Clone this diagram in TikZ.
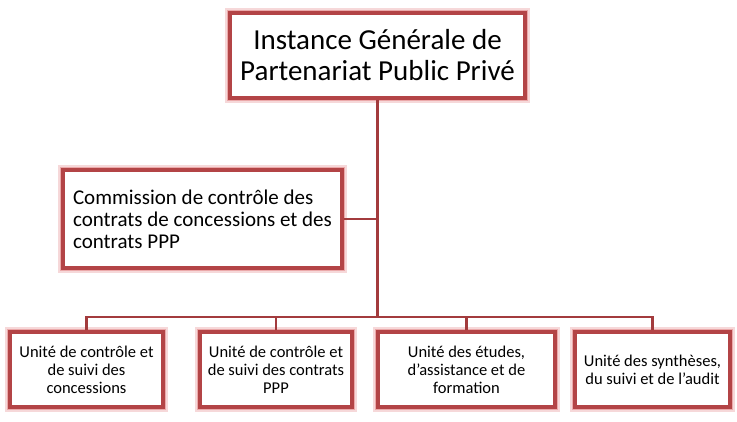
\documentclass[tikz,border=0pt]{standalone}
\usepackage{fontspec}
\setmainfont{Carlito}
\usetikzlibrary{positioning}
\definecolor{boxred}{HTML}{B34446}
\definecolor{glowred}{HTML}{EBA9AA}
\definecolor{linered}{HTML}{A33B3D}

\begin{document}
\begin{tikzpicture}
        [x=1pt, y=1pt,
            unit/.style={rectangle, align=center, fill=white, inner sep=2pt,
                preaction={draw=glowred!45, line width=10pt},
                preaction={draw=glowred, line width=6.5pt},
                draw=boxred, line width=3.2pt},
            link/.style={draw=linered, line width=2.2pt}
        ]
        \useasboundingbox (0,0) rectangle (737,422);
        \node (instance) [unit, minimum width=295pt, minimum height=85pt, font=\fontsize{29}{31}\selectfont] at (377.5,366.5) {Instance Générale de\\Partenariat Public Privé};
        \node (commission) [unit, align=left, minimum width=279pt, minimum height=98pt, font=\fontsize{21}{22}\selectfont] at (202.5,203) {Commission de contrôle des\\contrats de concessions et des\\contrats PPP};
        \node (concessions) [unit, minimum width=153pt, minimum height=75pt, font=\fontsize{16.5}{18}\selectfont] at (86.5,52.5) {Unité de contrôle et\\de suivi des\\concessions};
        \node (contrats) [unit, minimum width=152pt, minimum height=75pt, font=\fontsize{16.5}{18}\selectfont] at (276,52.5) {Unité de contrôle et\\de suivi des contrats\\PPP};
        \node (etudes) [unit, minimum width=177pt, minimum height=75pt, font=\fontsize{16.5}{18}\selectfont] at (466.5,52.5) {Unité des études,\\d’assistance et de\\formation};
        \node (audit) [unit, minimum width=155pt, minimum height=75pt, font=\fontsize{16.5}{18}\selectfont] at (652.5,52.5) {Unité des synthèses,\\du suivi et de l’audit};
        \coordinate (bus) at (377.5,105);
        \draw[link] (instance.south) -- (bus);
        \draw[link] (commission.east) -- (commission.east -| bus);
        \draw[link] (concessions.north) |- (audit.north |- bus) -- (audit.north);
        \draw[link] (contrats.north) -- (contrats.north |- bus);
        \draw[link] (etudes.north) -- (etudes.north |- bus);
\end{tikzpicture}
\end{document}
